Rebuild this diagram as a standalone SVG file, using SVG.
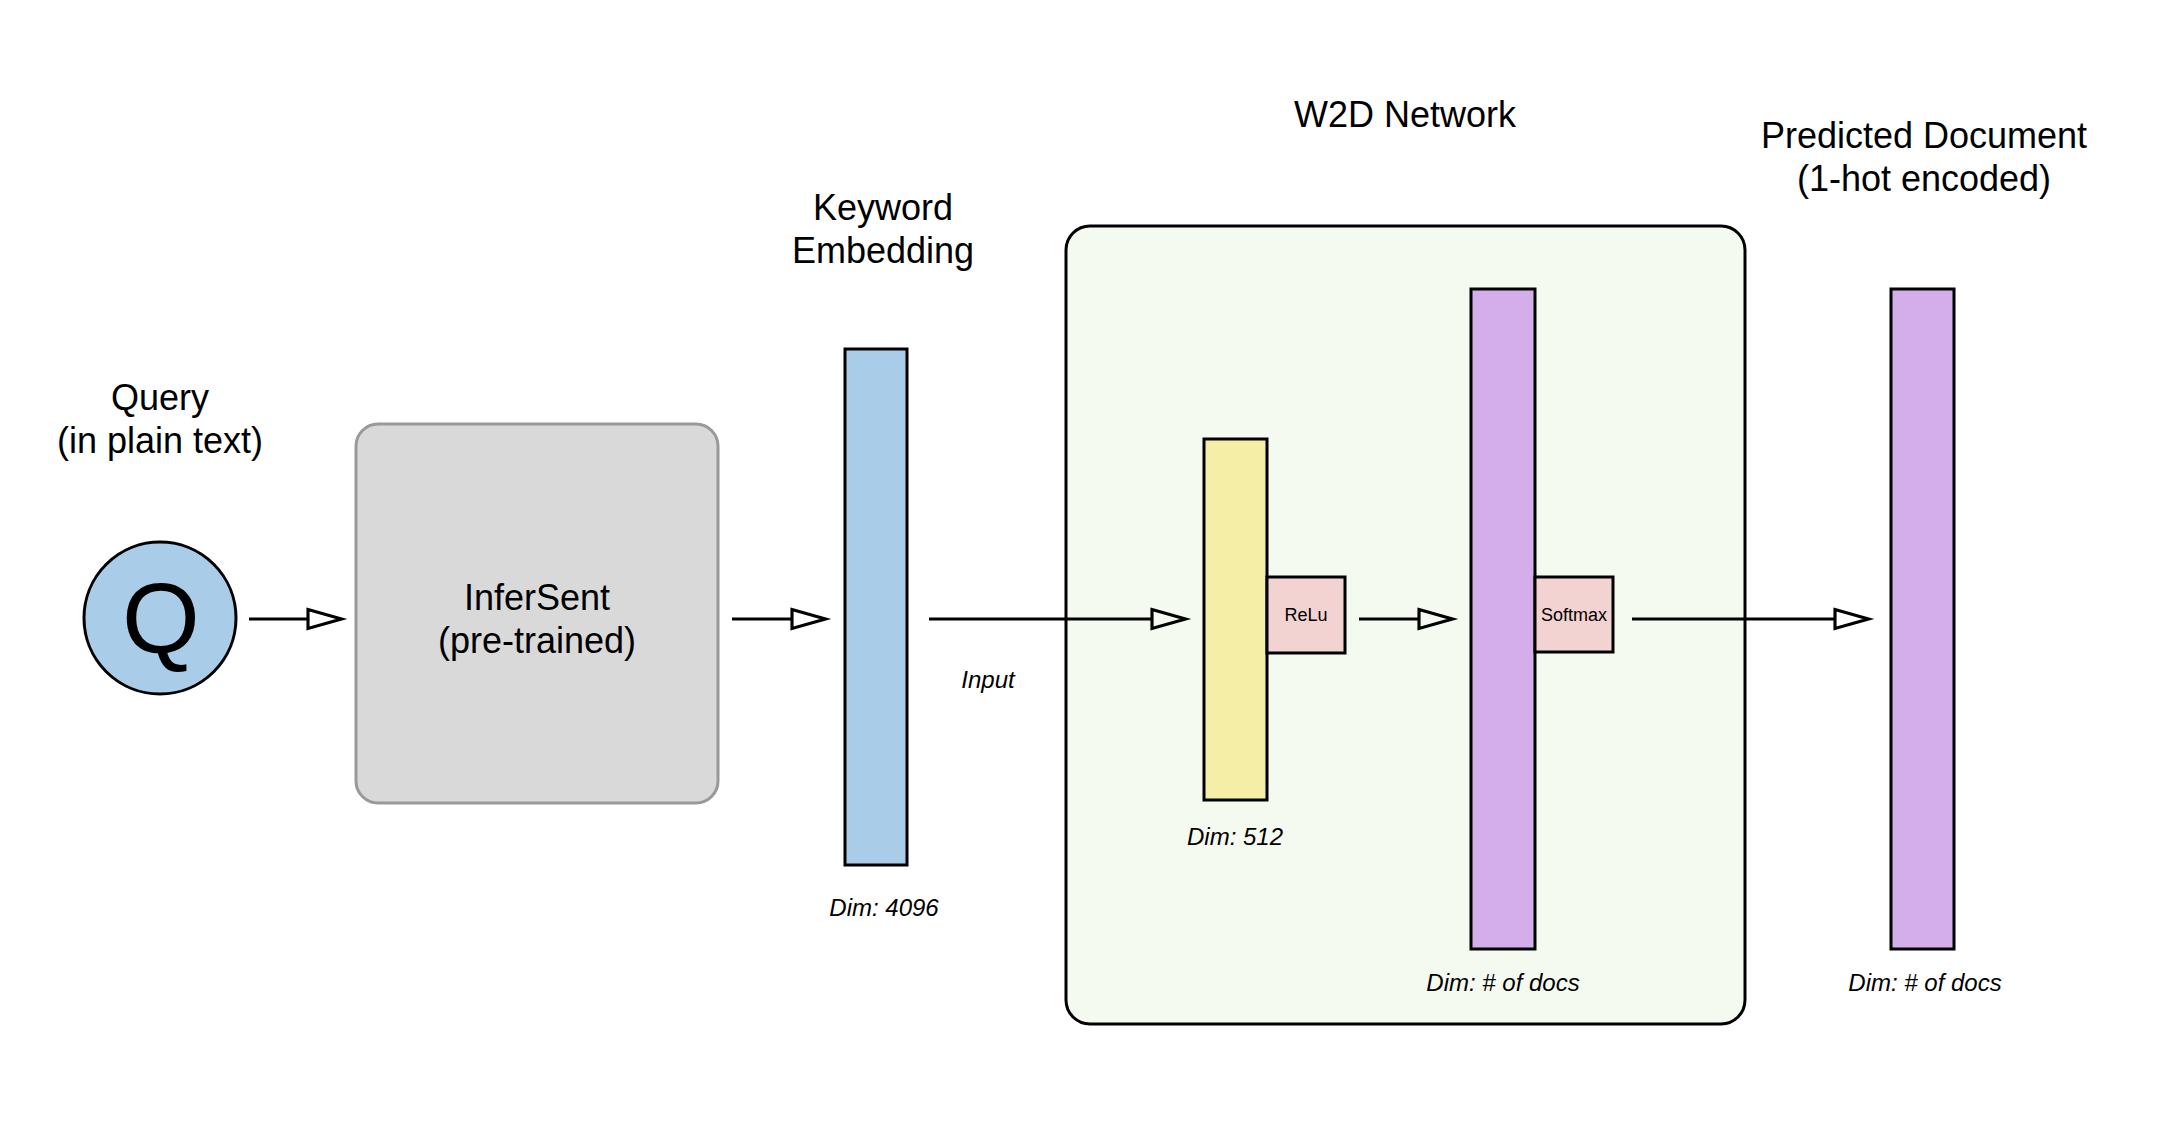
<svg xmlns="http://www.w3.org/2000/svg" width="2178" height="1122" viewBox="0 0 2178 1122">
<defs>
<style>
.t{font-family:"Liberation Sans",Arial,sans-serif;font-size:36px;fill:#000;text-anchor:middle}
.i{font-family:"Liberation Sans",Arial,sans-serif;font-size:24px;font-style:italic;fill:#000;text-anchor:middle}
.s{font-family:"Liberation Sans",Arial,sans-serif;font-size:18px;fill:#000;text-anchor:middle}
.bar{stroke:#000;stroke-width:3}
.blue{fill:#a9cce8}
.purple{fill:#d4aeea}
.yellow{fill:#f4eea6}
.pink{fill:#f2d3d2}
.edge{stroke:#000;stroke-width:3;fill:none}
</style>
<marker id="ah" markerUnits="userSpaceOnUse" markerWidth="44" markerHeight="28" viewBox="-2 -12 42 24" refX="0" refY="0" orient="auto">
<path d="M0,-9 L32,0 L0,9 Z" fill="none" stroke="#000" stroke-width="3"/>
</marker>
</defs>
<rect width="2178" height="1122" fill="#fff"/>
<g id="w2d-network">
<rect x="1066" y="226" width="679" height="798" rx="24" fill="#f5faf0" stroke="#000" stroke-width="3"/>
<text class="t" x="1405" y="127">W2D Network</text>
</g>
<g id="query">
<text class="t" x="160" y="410">Query</text>
<text class="t" x="160" y="453">(in plain text)</text>
<circle cx="160" cy="618" r="76" class="blue" stroke="#000" stroke-width="3"/>
<text x="161" y="653" font-family="Liberation Sans, Arial, sans-serif" font-size="100" text-anchor="middle">Q</text>
</g>
<g id="infersent">
<rect x="356" y="424" width="362" height="379" rx="22" fill="#d9d9d9" stroke="#999" stroke-width="3"/>
<text class="t" x="537" y="610">InferSent</text>
<text class="t" x="537" y="653">(pre-trained)</text>
</g>
<g id="keyword-embedding">
<text class="t" x="883" y="220">Keyword</text>
<text class="t" x="883" y="263">Embedding</text>
<rect x="845" y="349" width="62" height="516" class="bar blue"/>
<text class="i" x="884" y="916">Dim: 4096</text>
</g>
<g id="hidden-layer">
<rect x="1204" y="439" width="63" height="361" class="bar yellow"/>
<text class="i" x="1235" y="845">Dim: 512</text>
</g>
<g id="relu">
<rect x="1267" y="577" width="78" height="76" class="bar pink"/>
<text class="s" x="1306" y="621">ReLu</text>
</g>
<g id="output-layer">
<rect x="1471" y="289" width="64" height="660" class="bar purple"/>
<text class="i" x="1503" y="991">Dim: # of docs</text>
</g>
<g id="softmax">
<rect x="1535" y="577" width="78" height="75" class="bar pink"/>
<text class="s" x="1574" y="621">Softmax</text>
</g>
<g id="predicted-document">
<text class="t" x="1924" y="148">Predicted Document</text>
<text class="t" x="1924" y="191">(1-hot encoded)</text>
<rect x="1891" y="289" width="63" height="660" class="bar purple"/>
<text class="i" x="1925" y="991">Dim: # of docs</text>
</g>
<g id="connectors">
<path class="edge" d="M249,619 H308" marker-end="url(#ah)"/>
<path class="edge" d="M732,619 H792" marker-end="url(#ah)"/>
<path class="edge" d="M929,619 H1152" marker-end="url(#ah)"/>
<path class="edge" d="M1359,619 H1419" marker-end="url(#ah)"/>
<path class="edge" d="M1632,619 H1835" marker-end="url(#ah)"/>
<text class="i" x="988" y="688">Input</text>
</g>
</svg>
